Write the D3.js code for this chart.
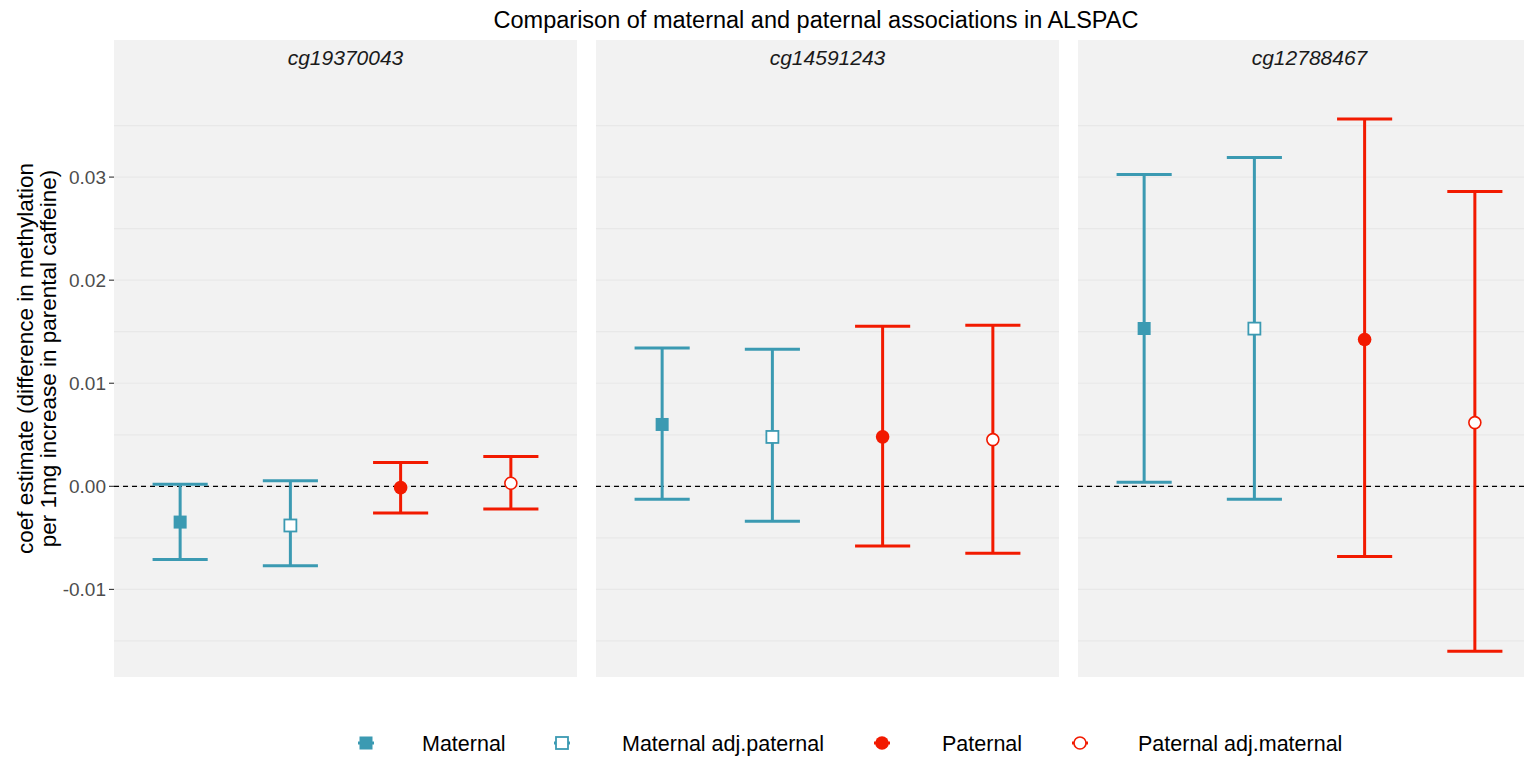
<!DOCTYPE html>
<html><head><meta charset="utf-8">
<script src="https://cdn.jsdelivr.net/npm/d3@7"></script>
<style>body{margin:0;background:#fff} svg{display:block} text{font-family:"Liberation Sans",Arial,sans-serif}</style>
</head><body><svg id="c" width="1524" height="758"></svg>
<script>
const genes = ["cg19370043","cg14591243","cg12788467"];
const groups = ["Maternal","Maternal adj.paternal","Paternal","Paternal adj.maternal"];
const estimate = [
  [-0.00347,-0.0038,-0.00013,0.0003],
  [0.0060,0.00479,0.0048,0.00453],
  [0.01531,0.0153,0.01424,0.00618]
];
const lower = [
  [-0.0071,-0.0077,-0.0026,-0.0022],
  [-0.00126,-0.0034,-0.0058,-0.0065],
  [0.0004,-0.00126,-0.0068,-0.016]
];
const upper = [
  [0.0002,0.00055,0.0023,0.0029],
  [0.01343,0.0133,0.01553,0.01563],
  [0.03026,0.0319,0.03563,0.0286]
];
const yTicks = [-0.01,0,0.01,0.02,0.03];
const yTickLabels = ["-0.01","0.00","0.01","0.02","0.03"];
const yMinor = [-0.015,-0.005,0.005,0.015,0.025,0.035];
const titleText = "Comparison of maternal and paternal associations in ALSPAC";
const yLabelLines = ["coef estimate (difference in methylation","per 1mg increase in parental caffeine)"];

const teal = "#3B9AB2", red = "#F21A00";
const colors = [teal, teal, red, red];
const filled = [true,false,true,false];
const shapes = ["square","square","circle","circle"];

const svg = d3.select("#c");
const panelTop = 40, panelBottom = 677, panelW = 463;
const panelLeft = [114, 596, 1078];
const y = d3.scaleLinear().domain([-0.0185, 0.0433]).range([panelBottom, panelTop]);
const x = d3.scalePoint().domain(groups).range([0, panelW]).padding(0.6);
const capW = x.step()*0.5;

// title
svg.append("text").attr("x", 816).attr("y", 28).attr("text-anchor","middle")
  .attr("font-size", 23.5).attr("fill","#000").text(titleText);

genes.forEach((g, gi) => {
  const p = svg.append("g").attr("transform", `translate(${panelLeft[gi]},0)`);
  p.append("rect").attr("x",0).attr("y",panelTop).attr("width",panelW).attr("height",panelBottom-panelTop).attr("fill","#F2F2F2");
  p.selectAll(".gm").data(yMinor.concat(yTicks)).enter().append("line")
    .attr("x1",0).attr("x2",panelW).attr("y1",d=>y(d)).attr("y2",d=>y(d))
    .attr("stroke","#E8E8E8").attr("stroke-width",1.2);
  p.append("text").attr("x",panelW/2).attr("y",65).attr("text-anchor","middle")
    .attr("font-size",21).attr("font-style","italic").attr("fill","#1A1A1A").text(g);
  p.append("line").attr("x1",0).attr("x2",panelW).attr("y1",y(0)).attr("y2",y(0))
    .attr("stroke","#000").attr("stroke-width",1.3).attr("stroke-dasharray","5,4");
  groups.forEach((grp, k) => {
    const cx = x(grp), col = colors[k];
    const eb = p.append("g").attr("stroke",col).attr("stroke-width",3).attr("fill","none");
    eb.append("line").attr("x1",cx).attr("x2",cx).attr("y1",y(lower[gi][k])).attr("y2",y(upper[gi][k]));
    eb.append("line").attr("x1",cx-capW/2).attr("x2",cx+capW/2).attr("y1",y(lower[gi][k])).attr("y2",y(lower[gi][k]));
    eb.append("line").attr("x1",cx-capW/2).attr("x2",cx+capW/2).attr("y1",y(upper[gi][k])).attr("y2",y(upper[gi][k]));
    drawMarker(p, cx, y(estimate[gi][k]), k);
  });
});

function drawMarker(sel, cx, cy, k) {
  const col = colors[k];
  if (shapes[k] === "square") {
    const s = filled[k] ? 13 : 12;
    sel.append("rect").attr("x",cx-s/2).attr("y",cy-s/2).attr("width",s).attr("height",s)
      .attr("fill", filled[k]?col:"#fff").attr("stroke",col).attr("stroke-width",filled[k]?0:1.8);
  } else {
    sel.append("circle").attr("cx",cx).attr("cy",cy).attr("r",filled[k]?6.8:6.0)
      .attr("fill", filled[k]?col:"#fff").attr("stroke",col).attr("stroke-width",filled[k]?0:1.6);
  }
}

// y axis
const ax = svg.append("g");
yTicks.forEach((t,i) => {
  ax.append("line").attr("x1",109).attr("x2",114).attr("y1",y(t)).attr("y2",y(t)).attr("stroke","#333").attr("stroke-width",1.1);
  ax.append("text").attr("x",106).attr("y",y(t)).attr("dy","0.35em").attr("text-anchor","end")
    .attr("font-size",19).attr("fill","#4D4D4D").text(yTickLabels[i]);
});
const yl = svg.append("text").attr("transform",`translate(0,${(panelTop+panelBottom)/2}) rotate(-90)`)
  .attr("text-anchor","middle").attr("font-size",22.5).attr("fill","#000");
yl.append("tspan").attr("x",0).attr("y",33).text(yLabelLines[0]);
yl.append("tspan").attr("x",0).attr("y",56).text(yLabelLines[1]);

// legend
const legKeyX = [366, 562, 882, 1080];
const legTextX = [422, 622, 942, 1138];
const legY = 743;
groups.forEach((grp,k) => {
  svg.append("line").attr("x1",legKeyX[k]-8).attr("x2",legKeyX[k]+8).attr("y1",legY).attr("y2",legY)
    .attr("stroke",colors[k]).attr("stroke-width",3);
  drawMarker(svg, legKeyX[k], legY, k);
  svg.append("text").attr("x",legTextX[k]).attr("y",legY).attr("dy","0.35em")
    .attr("font-size",21.5).attr("fill","#000").text(grp);
});
</script></body></html>
